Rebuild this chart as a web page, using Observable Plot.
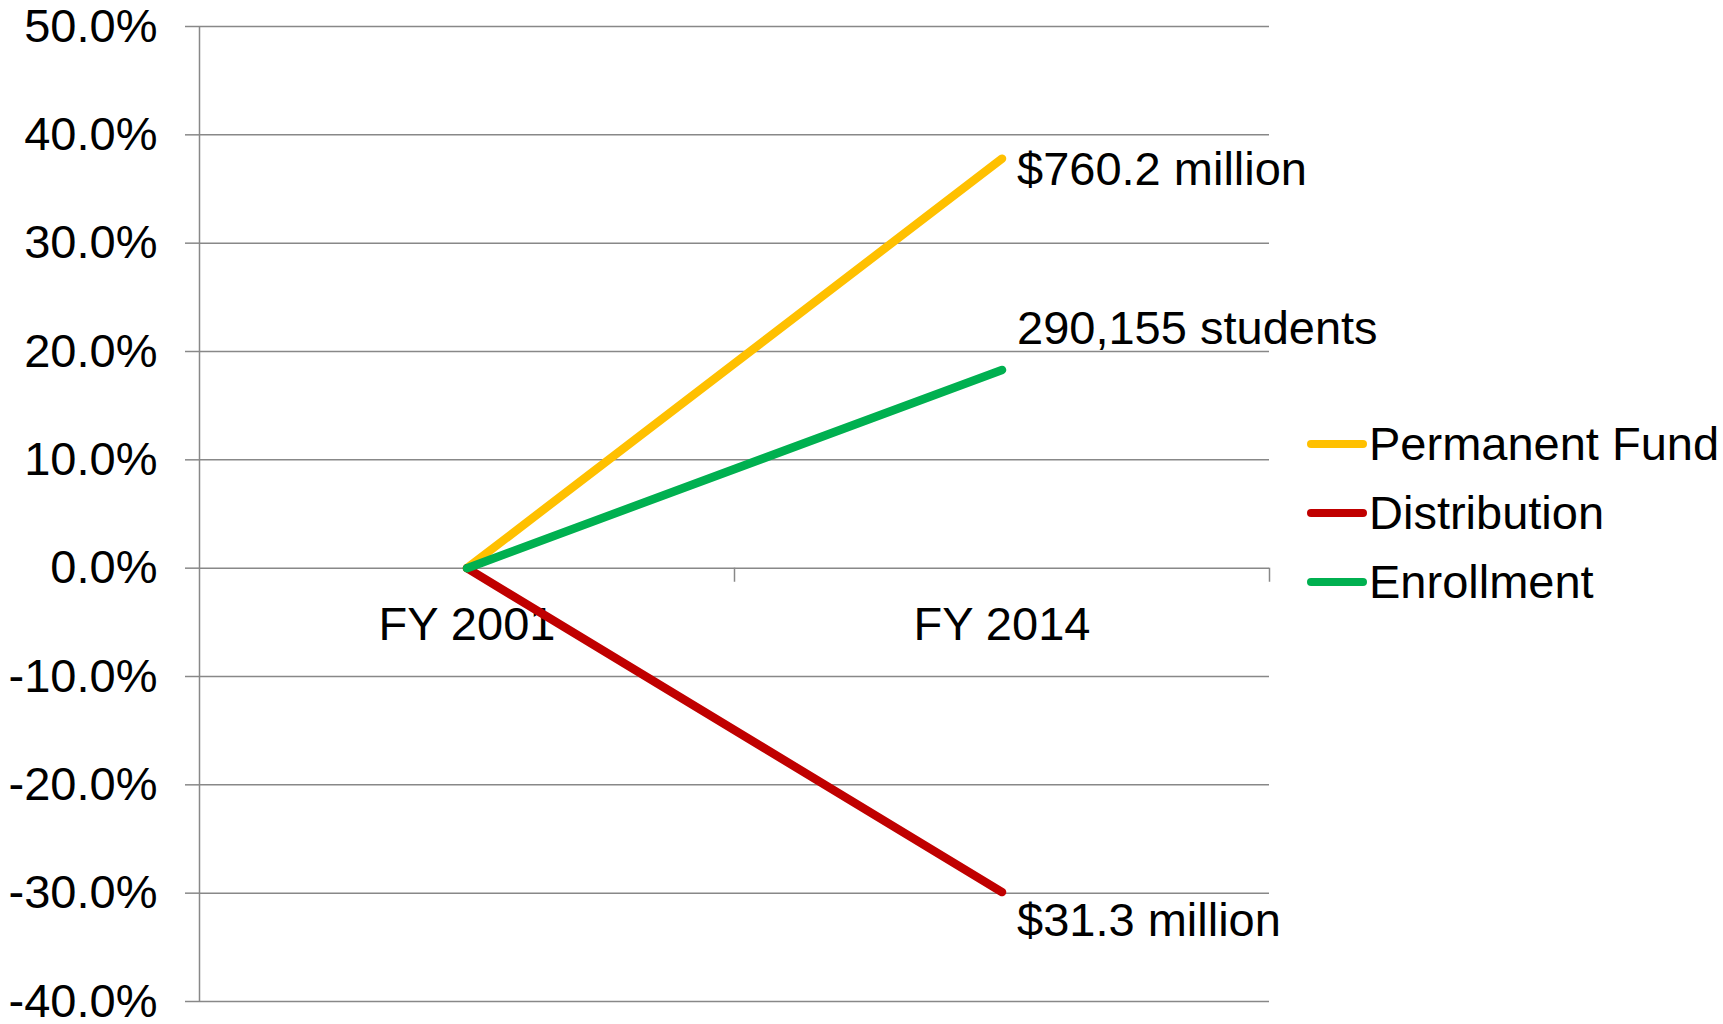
<!DOCTYPE html>
<html><head><meta charset="utf-8">
<script src="https://cdn.jsdelivr.net/npm/d3@7"></script>
<script src="https://cdn.jsdelivr.net/npm/@observablehq/plot@0.6"></script>
<style>
html,body{margin:0;padding:0;background:#fff;overflow:hidden;font-family:"Liberation Sans",Arial,sans-serif;}
#wrap{position:relative;width:1723px;height:1024px;overflow:hidden}
#legend{position:absolute;left:1307px;top:409px;font-size:47px;color:#000}
.item{display:flex;align-items:center;height:69px;white-space:nowrap}
.swatch{width:60px;height:8px;border-radius:4px;margin-right:2px}
</style></head><body><div id="wrap"><div id="legend"></div></div>
<script>
const categories = ["FY 2001", "FY 2014"];
const series = ["Permanent Fund", "Distribution", "Enrollment"];
const colors = ["#FFC000", "#C00000", "#00B050"];
const permanentFund = [0, 37.8];
const distribution = [0, -29.9];
const enrollment = [0, 18.3];
const endLabels = ["$760.2 million", "$31.3 million", "290,155 students"];
const yTicks = [-40, -30, -20, -10, 0, 10, 20, 30, 40, 50];

const values = [permanentFund, distribution, enrollment];
const rows = series.flatMap((s, k) => categories.map((c, i) => ({series: s, i, value: values[k][i]})));
const ends = series.map((s, k) => ({series: s, i: categories.length - 1, value: values[k][categories.length - 1], label: endLabels[k]}));
const labelDy = [11, 29, -41];
const grey = "#888888";

const chart = Plot.plot({
  width: 1723, height: 1024,
  marginLeft: 199, marginRight: 454, marginTop: 26, marginBottom: 23,
  style: {fontFamily: "'Liberation Sans', Arial, sans-serif", fontSize: "47px", color: "#000", background: "#fff", overflow: "visible"},
  x: {type: "linear", domain: [-0.5, categories.length - 0.5], axis: null},
  y: {domain: [-40, 50], axis: null},
  color: {domain: series, range: colors},
  marks: [
    Plot.gridY(yTicks, {stroke: grey, strokeOpacity: 1, strokeWidth: 1.5}),
    Plot.axisY({ticks: yTicks, label: null, tickSize: 14, tickPadding: 28, tickFormat: d => d.toFixed(1) + "%", stroke: grey, strokeWidth: 1.5, strokeOpacity: 1, fontSize: 47, fill: "#000"}),
    Plot.ruleX([-0.5], {stroke: grey, strokeWidth: 1.5}),
    Plot.ruleX(d3.range(categories.length).map(i => i + 0.5), {y1: 0, y2: -1.3, stroke: grey, strokeWidth: 1.5}),
    Plot.text(categories, {x: (d, i) => i, y: () => 0, dy: 57, text: d => d, fill: "#000", fontSize: 47}),
    Plot.line(rows, {x: "i", y: "value", z: "series", stroke: "series", strokeWidth: 8.5, strokeLinecap: "round", strokeLinejoin: "round"}),
    ...ends.map((e, k) => Plot.text([e], {x: "i", y: "value", text: "label", textAnchor: "start", dx: 15, dy: labelDy[k], fill: "#000", fontSize: 47}))
  ]
});
document.getElementById("wrap").prepend(chart);

const legend = document.getElementById("legend");
series.forEach((s, k) => {
  const it = document.createElement("div");
  it.className = "item";
  const sw = document.createElement("span");
  sw.className = "swatch";
  sw.style.background = colors[k];
  const tx = document.createElement("span");
  tx.textContent = s;
  it.appendChild(sw); it.appendChild(tx);
  legend.appendChild(it);
});
</script></body></html>
